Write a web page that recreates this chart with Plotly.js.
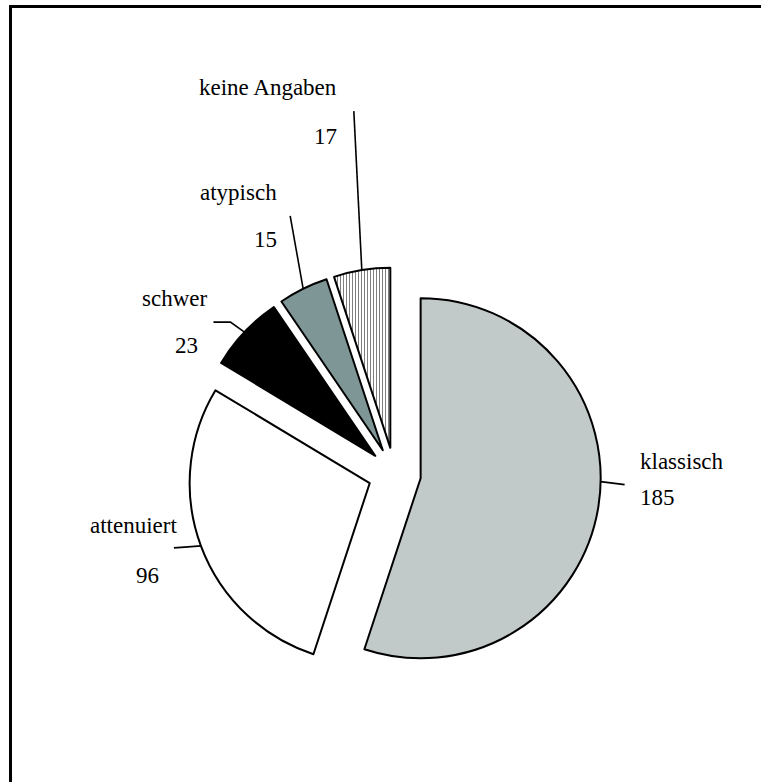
<!DOCTYPE html>
<html><head><meta charset="utf-8">
<script src="https://cdn.plot.ly/plotly-3.0.1.min.js"></script>
<style>
html,body{margin:0;padding:0;background:#fff;overflow:hidden;width:761px;height:782px}
#wrap{position:relative;width:761px;height:782px;overflow:hidden}
#frame{position:absolute;left:9px;top:5px;width:900px;height:900px;border-top:3px solid #000;border-left:3px solid #000;pointer-events:none;box-sizing:border-box}
</style>
</head><body><div id="wrap"><div id="chart" style="width:761px;height:782px"></div><div id="frame"></div></div>
<script>
// ---- data ----
const categories = ['klassisch', 'attenuiert', 'schwer', 'atypisch', 'keine Angaben'];
const values = [185, 96, 23, 15, 17];

// ---- layout / style ----
const W = 761, H = 782;
const pullFrac = 0.147;
const boxPx = {x0: 188, x1: 601, y0: 267.5, y1: 680.5};
const domain = {x: [boxPx.x0 / W, boxPx.x1 / W], y: [1 - boxPx.y1 / H, 1 - boxPx.y0 / H]};
const colors = ['#C1C9C9', '#FFFFFF', '#000000', '#7F9696', '#FFFFFF'];
const patternShapes = ['', '', '', '', '|'];
const FONT = 'Liberation Serif, Times New Roman, serif';

// label placement (pixels): [x, y, xanchor] for label and value text
const labelPos = [[638, 462, 'left'], [179, 525, 'right'], [209, 298, 'right'], [279, 193, 'right'], [339, 88, 'right']];
const valuePos = [[638, 497, 'left'], [161, 575, 'right'], [200, 345, 'right'], [279, 240, 'right'], [339, 136, 'right']];
// leader line: angular shift of anchor (deg), optional elbow offset and end offset (px) relative to anchor
const leaderShift = [-8, 0, 0, 0, 0];
const leaderElbow = [null, [-13, 1], [-14, -10], null, null];
const leaderEnd = [[24, 3], [-27, 2], [-31, -10], [-13, -73], [-8, -159]];

// ---- geometry identical to plotly's pie scaling ----
const cx = W * (domain.x[0] + domain.x[1]) / 2;
const cy = H * (1 - domain.y[0]) - H * (domain.y[1] - domain.y[0]) / 2;
const r = Math.min(W * (domain.x[1] - domain.x[0]), H * (domain.y[1] - domain.y[0])) / 2 / (1 + pullFrac);
const total = values.reduce((a, b) => a + b, 0);
const px2x = p => p / W, px2y = p => 1 - p / H;

let cum = 0;
const shapes = [];
values.forEach((v, i) => {
  const a0 = cum / total * 2 * Math.PI; cum += v;
  const a1 = cum / total * 2 * Math.PI;
  const mid = (a0 + a1) / 2;
  const ang = mid + leaderShift[i] * Math.PI / 180;
  const tx = cx + pullFrac * r * Math.sin(mid) + r * Math.sin(ang);
  const ty = cy - pullFrac * r * Math.cos(mid) - r * Math.cos(ang);
  let path = 'M' + px2x(tx) + ',' + px2y(ty);
  if (leaderElbow[i]) path += ' L' + px2x(tx + leaderElbow[i][0]) + ',' + px2y(ty + leaderElbow[i][1]);
  path += ' L' + px2x(tx + leaderEnd[i][0]) + ',' + px2y(ty + leaderEnd[i][1]);
  shapes.push({type: 'path', xref: 'paper', yref: 'paper', path: path, line: {color: '#000', width: 1.6}});
});

const annotations = [];
categories.forEach((c, i) => {
  annotations.push({xref: 'paper', yref: 'paper', x: px2x(labelPos[i][0]), y: px2y(labelPos[i][1]),
    xanchor: labelPos[i][2], yanchor: 'middle', text: c, showarrow: false,
    font: {family: FONT, size: 23, color: '#000'}});
  annotations.push({xref: 'paper', yref: 'paper', x: px2x(valuePos[i][0]), y: px2y(valuePos[i][1]),
    xanchor: valuePos[i][2], yanchor: 'middle', text: String(values[i]), showarrow: false,
    font: {family: FONT, size: 23, color: '#000'}});
});

const trace = {
  type: 'pie',
  labels: categories,
  values: values,
  sort: false,
  direction: 'clockwise',
  rotation: 0,
  pull: values.map(() => pullFrac),
  domain: domain,
  textinfo: 'none',
  hoverinfo: 'none',
  showlegend: false,
  marker: {
    colors: colors,
    line: {color: '#000', width: 2},
    pattern: {shape: patternShapes, fgcolor: '#707070', bgcolor: '#FFFFFF', size: 3, solidity: 0.3}
  }
};

Plotly.newPlot('chart', [trace], {
  width: W, height: H,
  margin: {l: 0, r: 0, t: 0, b: 0},
  paper_bgcolor: '#fff', plot_bgcolor: '#fff',
  showlegend: false,
  font: {family: FONT, size: 23, color: '#000'},
  shapes: shapes,
  annotations: annotations
}, {displayModeBar: false, staticPlot: true});
</script></body></html>
